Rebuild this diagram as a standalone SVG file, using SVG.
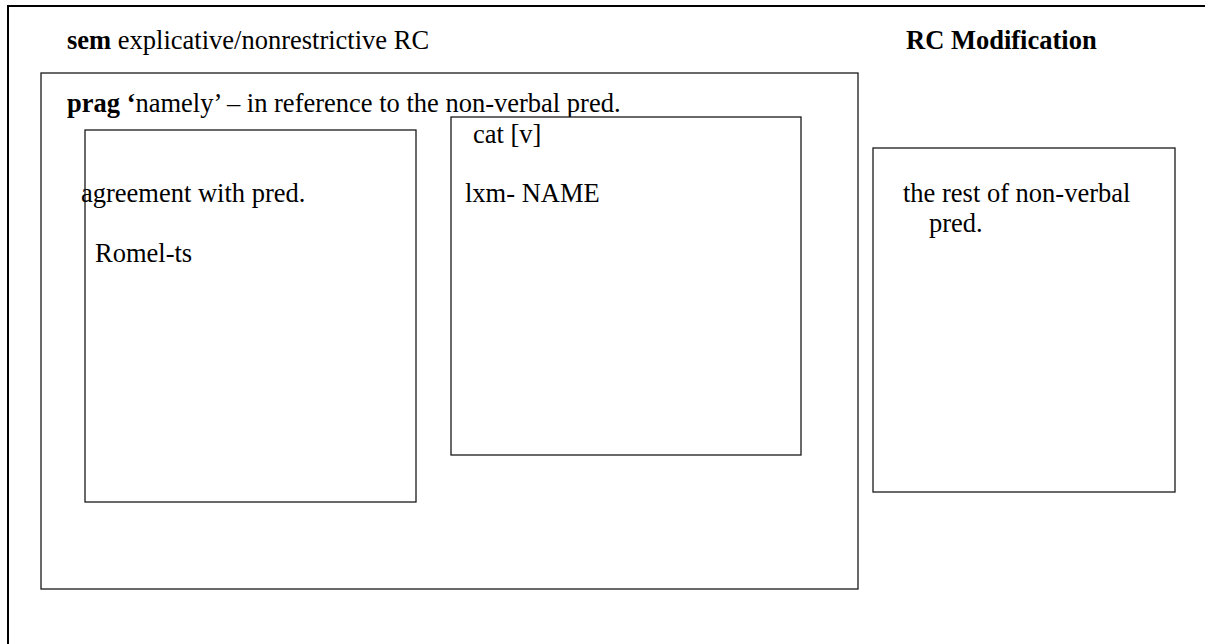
<svg xmlns="http://www.w3.org/2000/svg" width="1205" height="644" viewBox="0 0 1205 644">
  <style>
    .box { fill: #ffffff; stroke: #1a1a1a; stroke-width: 1.3; }
    .frame { fill: none; stroke: #000000; stroke-width: 2; }
    text { font-family: "Liberation Serif", "Times New Roman", serif; font-size: 26.5px; fill: #000000; }
    .b { font-weight: bold; }
  </style>
  <rect width="1205" height="644" fill="#ffffff"/>
  <!-- outer frame: open at right and bottom -->
  <g id="frame">
    <path class="frame" d="M8,650 L8,6 L1210,6"/>
    <text x="67" y="49"><tspan class="b">sem</tspan> explicative/nonrestrictive RC</text>
    <text class="b" x="906" y="49">RC Modification</text>
  </g>
  <g id="prag">
    <rect class="box" x="41" y="73" width="817" height="516"/>
    <text x="67" y="112"><tspan class="b">prag ‘</tspan>namely’ – in reference to the non-verbal pred.</text>
  </g>
  <g id="agreement">
    <rect class="box" x="85" y="130" width="331" height="372"/>
    <text x="81" y="202">agreement with pred.</text>
    <text x="95" y="262">Romel-ts</text>
  </g>
  <g id="cat">
    <rect class="box" x="451" y="117" width="350" height="338"/>
    <text x="473" y="143">cat [v]</text>
    <text x="465" y="202">lxm- NAME</text>
  </g>
  <g id="rest">
    <rect class="box" x="873" y="148" width="302" height="344"/>
    <text x="903" y="202">the rest of non-verbal</text>
    <text x="929" y="232">pred.</text>
  </g>
  <g id="connectors"></g>
</svg>
